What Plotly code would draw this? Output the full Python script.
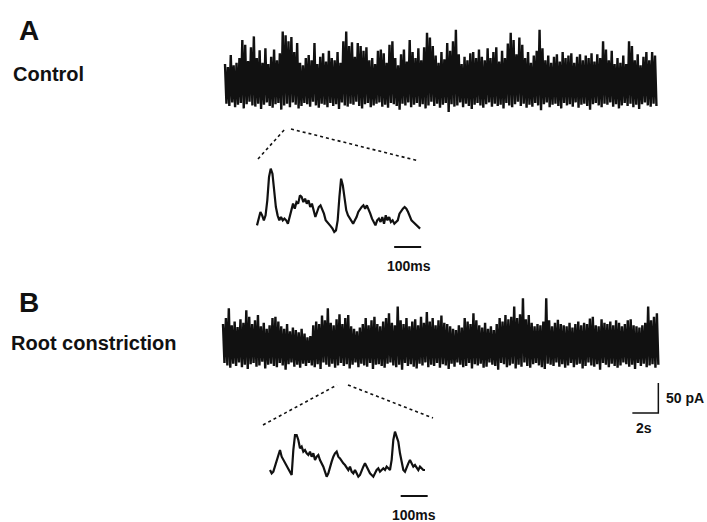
import plotly.graph_objects as go

# ---------------- data (pA) ----------------
# Panel A (Control) continuous recording: successive peak / trough values
a_tops = [60, 55, 75, 58, 62, 70, 100, 92, 65, 88, 106, 70, 83, 62, 86, 60, 72, 84, 66, 78,
          114, 108, 98, 105, 80, 95, 62, 58, 70, 75, 66, 95, 60, 72, 78, 64, 82, 70, 66, 80,
          62, 98, 114, 90, 96, 72, 95, 90, 82, 88, 66, 70, 60, 82, 84, 78, 62, 92, 98, 70,
          58, 76, 84, 64, 100, 80, 70, 86, 66, 88, 112, 104, 90, 74, 62, 80, 68, 95, 82, 98,
          117, 76, 60, 72, 66, 78, 80, 70, 84, 72, 66, 86, 70, 80, 88, 64, 82, 70, 94, 112,
          100, 76, 104, 92, 70, 80, 62, 74, 82, 117, 86, 66, 74, 62, 72, 76, 64, 80, 70, 74,
          78, 62, 72, 76, 66, 74, 70, 78, 64, 76, 70, 98, 84, 66, 82, 60, 70, 62, 74, 60,
          98, 90, 66, 76, 58, 72, 80, 66, 80, 74]
a_bottoms = [-6, -10, -4, -12, -8, -5, -14, -7, -3, -9, -11, -6, -15, -8, -4, -10, -13, -7, -5, -16,
             -9, -6, -12, -4, -8, -14, -10, -5, -7, -11, -3, -9, -13, -6, -8, -12, -5, -10, -7, -15,
             -4, -9, -11, -6, -8, -3, -10, -14, -7, -5, -12, -9, -6, -4, -11, -8, -13, -5, -7, -10,
             -16, -6, -9, -4, -12, -8, -5, -11, -7, -14, -9, -3, -10, -6, -13, -8, -5, -20, -7, -11,
             -9, -4, -12, -6, -10, -15, -8, -5, -9, -13, -7, -4, -11, -6, -10, -8, -14, -5, -9, -12,
             -7, -3, -10, -6, -13, -8, -11, -5, -9, -17, -7, -4, -12, -8, -6, -10, -14, -5, -9, -7,
             -11, -4, -13, -8, -6, -10, -16, -7, -5, -9, -12, -6, -8, -4, -11, -7, -14, -9, -5, -10,
             -6, -12, -8, -15, -7, -4, -9, -11, -6, -10]

# Panel B (Root constriction) continuous recording
b_tops = [60, 70, 86, 58, 64, 55, 68, 62, 83, 72, 60, 66, 75, 56, 62, 52, 58, 70, 72, 64,
          56, 52, 60, 48, 54, 50, 46, 52, 44, 38, 40, 58, 64, 60, 74, 66, 86, 62, 58, 68,
          76, 60, 70, 75, 56, 52, 48, 54, 60, 70, 58, 66, 72, 60, 56, 64, 70, 78, 62, 58,
          89, 66, 60, 70, 56, 64, 68, 58, 72, 62, 80, 64, 70, 58, 66, 74, 62, 60, 56, 52,
          50, 58, 54, 70, 64, 60, 78, 66, 58, 54, 62, 52, 56, 50, 60, 70, 64, 75, 68, 72,
          89, 70, 76, 103, 68, 75, 62, 56, 60, 58, 64, 103, 66, 56, 62, 67, 60, 58, 56, 62,
          54, 60, 64, 58, 62, 60, 69, 72, 58, 56, 68, 62, 60, 64, 58, 66, 62, 56, 60, 66,
          68, 58, 56, 54, 58, 62, 89, 66, 72, 78]
b_bottoms = [-5, -9, -13, -6, -10, -4, -12, -8, -15, -7, -5, -11, -9, -3, -14, -8, -6, -10, -12, -5,
             -9, -16, -7, -4, -11, -8, -13, -6, -10, -5, -9, -12, -7, -15, -4, -8, -11, -6, -13, -9,
             -5, -10, -7, -14, -8, -4, -12, -6, -9, -11, -5, -15, -8, -7, -10, -13, -6, -4, -9, -12,
             -8, -16, -5, -10, -7, -11, -14, -6, -9, -4, -12, -8, -10, -5, -13, -7, -9, -15, -6, -11,
             -4, -8, -12, -10, -5, -14, -7, -9, -6, -13, -11, -4, -8, -10, -16, -5, -7, -12, -9, -6,
             -14, -8, -11, -4, -10, -13, -7, -5, -9, -12, -15, -6, -8, -10, -4, -11, -7, -13, -9, -5,
             -12, -8, -6, -14, -10, -4, -9, -11, -7, -16, -5, -8, -12, -6, -10, -13, -9, -4, -7, -11,
             -8, -15, -5, -10, -6, -12, -9, -7, -13, -8]

# Expanded segments (pA)
a_zoom = [-5.6, 8.3, 16.7, 11.1, 2.8, 11.1, 36.1, 75.0, 88.9, 80.6, 52.8, 25.0, 11.1, 2.8, 8.3,
          2.8, 5.6, 2.8, -2.8, 8.3, 19.4, 30.6, 22.2, 33.3, 30.6, 44.4, 41.7, 33.3, 38.9, 30.6,
          36.1, 25.0, 30.6, 19.4, 8.3, 16.7, 25.0, 27.8, 22.2, 13.9, 2.8, 0.0, -2.8, -7.2, -11.1,
          -16.7, -13.9, 2.8, 41.7, 72.2, 61.1, 36.1, 19.4, 11.1, 5.6, 2.8, -2.8, 2.8, 8.3, 16.7,
          22.2, 25.0, 27.8, 22.2, 27.8, 22.2, 13.9, 5.6, 0.0, -5.6, 2.8, 5.6, 0.0, 8.3, -2.8,
          11.1, 2.8, 8.3, 0.0, 2.8, -2.8, 0.0, 2.8, 13.9, 19.4, 22.2, 25.0, 22.2, 16.7, 8.3,
          2.8, 0.0, -2.8, -5.6, -8.3, -11.1]
b_zoom = [0.0, -5.6, -2.8, 5.6, 16.7, 25.0, 33.3, 22.2, 16.7, 11.1, 8.3, 2.8, -2.8, -8.3, 33.3,
          58.3, 58.3, 50.0, 36.1, 38.9, 30.6, 33.3, 27.8, 25.0, 30.6, 22.2, 27.8, 16.7, 22.2, 25.0,
          16.7, 11.1, 5.6, -2.8, -11.1, -5.6, 5.6, 13.9, 22.2, 27.8, 30.6, 22.2, 19.4, 13.9, 11.1,
          8.3, 2.8, 0.0, 5.6, -2.8, -5.6, 0.0, -5.6, -11.1, -8.3, 0.0, 5.6, 11.1, 5.6, 0.0,
          -5.6, -8.3, -11.1, -5.6, 0.0, 2.8, -2.8, 0.0, 2.8, 0.0, 5.6, 2.8, 0.0, 16.7, 50.0,
          63.9, 55.6, 47.2, 27.8, 11.1, 0.0, -2.8, 5.6, 11.1, 16.7, 11.1, 5.6, 8.3, 2.8, 0.0,
          5.6, 2.8, 0.0, 0.0]

DT_A = 0.111          # s per sample, trace A
DT_B = 0.112          # s per sample, trace B
A_ZOOM_MS = 604.0     # duration of expanded segment A
B_ZOOM_MS = 574.0     # duration of expanded segment B
SCALE_PA = 50
SCALE_S = 2
SCALE_MS = 100

# ---------------- geometry helpers ----------------
W, H = 707, 522
PA_PER_PX = 50 / 30
S_PER_PX = 2 / 26
MS_PER_PX = 100 / 27


def interleave(tops, bottoms):
    n = min(len(tops), len(bottoms))
    out = []
    for i in range(n):
        out.append(tops[i])
        out.append(bottoms[i])
    return out


fig = go.Figure()
layout_axes = {}


def make_axes(n, px_x0, px_x1, px_y0, px_y1, x_org, x_scale, y_org, y_scale):
    xname = "xaxis" if n == 1 else f"xaxis{n}"
    yname = "yaxis" if n == 1 else f"yaxis{n}"
    layout_axes[xname] = dict(domain=[px_x0 / W, px_x1 / W],
                              range=[(px_x0 - x_org) * x_scale, (px_x1 - x_org) * x_scale],
                              visible=False, anchor="y" if n == 1 else f"y{n}", fixedrange=True)
    layout_axes[yname] = dict(domain=[1 - px_y1 / H, 1 - px_y0 / H],
                              range=[(y_org - px_y1) * y_scale, (y_org - px_y0) * y_scale],
                              visible=False, anchor="x" if n == 1 else f"x{n}", fixedrange=True)


# A dense, A zoom, B dense, B zoom
make_axes(1, 218, 665, 20, 122, 225, S_PER_PX, 100, PA_PER_PX)
make_axes(2, 245, 445, 150, 280, 257, MS_PER_PX, 222, PA_PER_PX)
make_axes(3, 215, 668, 285, 430, 223, S_PER_PX, 360, PA_PER_PX)
make_axes(4, 255, 455, 410, 522, 270, MS_PER_PX, 470, PA_PER_PX)

INK = "#111111"

# dense traces
ya = interleave(a_tops, a_bottoms)
xa = [i * DT_A for i in range(len(ya))]
fig.add_trace(go.Scatter(x=xa, y=ya, mode="lines", line=dict(color=INK, width=2.4),
                         xaxis="x", yaxis="y", hoverinfo="skip"))
yb = interleave(b_tops, b_bottoms)
xb = [i * DT_B for i in range(len(yb))]
fig.add_trace(go.Scatter(x=xb, y=yb, mode="lines", line=dict(color=INK, width=2.4),
                         xaxis="x3", yaxis="y3", hoverinfo="skip"))

# expanded traces
dta = A_ZOOM_MS / (len(a_zoom) - 1)
xza = [i * dta for i in range(len(a_zoom))]
fig.add_trace(go.Scatter(x=xza, y=a_zoom, mode="lines", line=dict(color=INK, width=2.2),
                         xaxis="x2", yaxis="y2", hoverinfo="skip"))
dtb = B_ZOOM_MS / (len(b_zoom) - 1)
xzb = [i * dtb for i in range(len(b_zoom))]
fig.add_trace(go.Scatter(x=xzb, y=b_zoom, mode="lines", line=dict(color=INK, width=2.2),
                         xaxis="x4", yaxis="y4", hoverinfo="skip"))

# 100 ms scale bars
bar_a_end = xza[-1] + 4
bar_a_y = -25 * PA_PER_PX
fig.add_trace(go.Scatter(x=[bar_a_end - SCALE_MS, bar_a_end], y=[bar_a_y, bar_a_y], mode="lines",
                         line=dict(color=INK, width=2), xaxis="x2", yaxis="y2", hoverinfo="skip"))
bar_b_end = xzb[-1] + 10
bar_b_y = -26 * PA_PER_PX
fig.add_trace(go.Scatter(x=[bar_b_end - SCALE_MS, bar_b_end], y=[bar_b_y, bar_b_y], mode="lines",
                         line=dict(color=INK, width=2), xaxis="x4", yaxis="y4", hoverinfo="skip"))

# 50 pA / 2 s scale bar
sb_x = xb[-1]
sb_y = -53 * PA_PER_PX
fig.add_trace(go.Scatter(x=[sb_x - SCALE_S, sb_x, sb_x], y=[sb_y, sb_y, sb_y + SCALE_PA],
                         mode="lines", line=dict(color=INK, width=1.5),
                         xaxis="x3", yaxis="y3", hoverinfo="skip"))

# dotted connector lines (paper coords)
def P(px, py):
    return px / W, 1 - py / H


shapes = []
for (x0, y0, x1, y1) in [(258, 159, 285, 129), (291, 129, 419, 161),
                         (263, 425, 337, 385), (348, 385, 433, 418)]:
    a0, b0 = P(x0, y0)
    a1, b1 = P(x1, y1)
    shapes.append(dict(type="line", xref="paper", yref="paper", x0=a0, y0=b0, x1=a1, y1=b1,
                       line=dict(color=INK, width=1.6, dash="dot")))

FONT = "Liberation Sans, Arial, sans-serif"
annotations = []


def label(text, px, py, size, xanchor="left"):
    x, y = P(px, py)
    annotations.append(dict(text=f"<b>{text}</b>", x=x, y=y, xref="paper", yref="paper",
                            xanchor=xanchor, yanchor="middle", showarrow=False,
                            font=dict(family=FONT, size=size, color=INK)))


label("A", 17, 30, 28)
label("Control", 11, 74, 20)
label("B", 17, 302, 28)
label("Root constriction", 9, 343, 20)
label("100ms", 409, 266, 14, "center")
label("100ms", 414, 515, 14, "center")
label("50 pA", 664, 398, 14)
label("2s", 634, 428, 14)

fig.update_layout(width=W, height=H, margin=dict(l=0, r=0, t=0, b=0),
                  paper_bgcolor="white", plot_bgcolor="rgba(0,0,0,0)", showlegend=False,
                  shapes=shapes, annotations=annotations, **layout_axes)

fig.write_html("out.html")
